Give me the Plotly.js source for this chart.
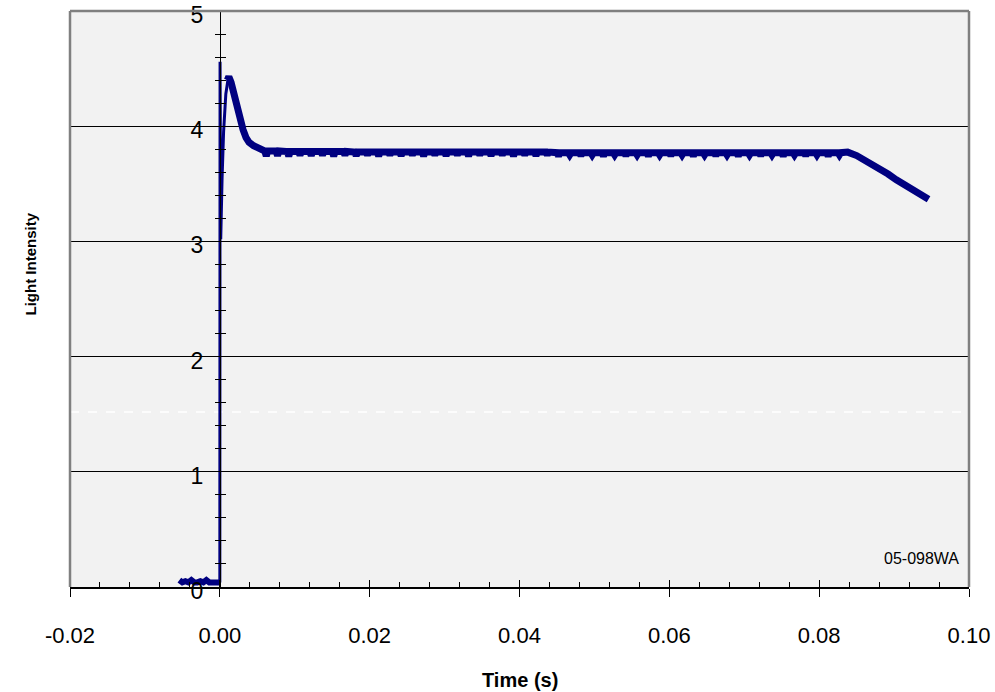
<!DOCTYPE html>
<html>
<head>
<meta charset="utf-8">
<script src="https://cdn.plot.ly/plotly-3.0.1.min.js"></script>
<style>html,body{margin:0;padding:0;background:#fff;}#chart{width:995px;height:692px;}</style>
</head>
<body>
<div id="chart"></div>
<script>
// Pre-trigger baseline
var preTime  = [-0.0054, -0.0050, -0.0046, -0.0042, -0.0038, -0.0034, -0.0030, -0.0026, -0.0022, -0.0018, -0.0014, -0.0010, -0.0006, -0.0002, 0.0000];
var preLight = [0.06, 0.04, 0.05, 0.04, 0.06, 0.04, 0.04, 0.05, 0.04, 0.06, 0.04, 0.04, 0.05, 0.04, 0.04];
// Trigger spike and first rise
var jumpTime  = [0.0000, 0.00003, 0.00012, 0.0003, 0.0005, 0.0008, 0.0011];
var jumpLight = [0.04, 4.56, 3.02, 3.55, 3.95, 4.28, 4.41];
// Overshoot decay, plateau (with downward noise spikes) and final decline
var mainTime = [0.0010, 0.0012, 0.0015, 0.0019, 0.0022, 0.0027, 0.0031, 0.0035, 0.0039, 0.0045, 0.0050, 0.0055,
  0.0060, 0.0062, 0.0064, 0.0075, 0.0077, 0.0079,
  0.0090, 0.0092, 0.0094, 0.0105, 0.0107, 0.0109,
  0.0120, 0.0122, 0.0124, 0.0135, 0.0137, 0.0139,
  0.0150, 0.0152, 0.0154, 0.0165, 0.0167, 0.0169,
  0.0180, 0.0182, 0.0184, 0.0195, 0.0197, 0.0199,
  0.0210, 0.0212, 0.0214, 0.0225, 0.0227, 0.0229,
  0.0240, 0.0242, 0.0244, 0.0255, 0.0257, 0.0259,
  0.0270, 0.0272, 0.0274, 0.0285, 0.0287, 0.0289,
  0.0300, 0.0302, 0.0304, 0.0315, 0.0317, 0.0319,
  0.0330, 0.0332, 0.0334, 0.0345, 0.0347, 0.0349,
  0.0360, 0.0362, 0.0364, 0.0375, 0.0377, 0.0379,
  0.0390, 0.0392, 0.0394, 0.0405, 0.0407, 0.0409,
  0.0420, 0.0422, 0.0424, 0.0435, 0.0437, 0.0439,
  0.0450, 0.0452, 0.0454, 0.0465, 0.0467, 0.0469,
  0.0480, 0.0482, 0.0484, 0.0495, 0.0497, 0.0499,
  0.0510, 0.0512, 0.0514, 0.0525, 0.0527, 0.0529,
  0.0540, 0.0542, 0.0544, 0.0555, 0.0557, 0.0559,
  0.0570, 0.0572, 0.0574, 0.0585, 0.0587, 0.0589,
  0.0600, 0.0602, 0.0604, 0.0615, 0.0617, 0.0619,
  0.0630, 0.0632, 0.0634, 0.0645, 0.0647, 0.0649,
  0.0660, 0.0662, 0.0664, 0.0675, 0.0677, 0.0679,
  0.0690, 0.0692, 0.0694, 0.0705, 0.0707, 0.0709,
  0.0720, 0.0722, 0.0724, 0.0735, 0.0737, 0.0739,
  0.0750, 0.0752, 0.0754, 0.0765, 0.0767, 0.0769,
  0.0780, 0.0782, 0.0784, 0.0795, 0.0797, 0.0799,
  0.0810, 0.0812, 0.0814, 0.0825, 0.0827, 0.0829,
  0.0838, 0.0850, 0.0863, 0.0872, 0.0881, 0.0892, 0.0903, 0.0914, 0.0925, 0.0936, 0.0946];
var mainLight = [4.40, 4.43, 4.38, 4.27, 4.17, 4.05, 3.97, 3.90, 3.86, 3.83, 3.81, 3.80,
  3.785, 3.74, 3.785, 3.785, 3.745, 3.785,
  3.78, 3.74, 3.78, 3.78, 3.75, 3.78,
  3.78, 3.745, 3.78, 3.78, 3.75, 3.78,
  3.78, 3.74, 3.78, 3.78, 3.75, 3.78,
  3.775, 3.745, 3.775, 3.775, 3.75, 3.775,
  3.775, 3.74, 3.775, 3.775, 3.75, 3.775,
  3.775, 3.745, 3.775, 3.775, 3.75, 3.775,
  3.775, 3.74, 3.775, 3.775, 3.75, 3.775,
  3.775, 3.745, 3.775, 3.775, 3.75, 3.775,
  3.775, 3.74, 3.775, 3.775, 3.75, 3.775,
  3.775, 3.745, 3.775, 3.775, 3.75, 3.775,
  3.775, 3.74, 3.775, 3.775, 3.75, 3.775,
  3.775, 3.745, 3.775, 3.775, 3.75, 3.775,
  3.77, 3.74, 3.77, 3.77, 3.75, 3.77,
  3.77, 3.745, 3.77, 3.77, 3.75, 3.77,
  3.77, 3.74, 3.77, 3.77, 3.75, 3.77,
  3.77, 3.745, 3.77, 3.77, 3.75, 3.77,
  3.77, 3.74, 3.77, 3.77, 3.75, 3.77,
  3.77, 3.745, 3.77, 3.77, 3.75, 3.77,
  3.77, 3.74, 3.77, 3.77, 3.75, 3.77,
  3.77, 3.745, 3.77, 3.77, 3.75, 3.77,
  3.77, 3.74, 3.77, 3.77, 3.75, 3.77,
  3.77, 3.745, 3.77, 3.77, 3.75, 3.77,
  3.77, 3.74, 3.77, 3.77, 3.75, 3.77,
  3.77, 3.745, 3.77, 3.77, 3.75, 3.77,
  3.77, 3.74, 3.77, 3.77, 3.75, 3.77,
  3.775, 3.745, 3.70, 3.67, 3.625, 3.585, 3.535, 3.495, 3.45, 3.41, 3.365];

var xTickVals = [-0.02, 0.00, 0.02, 0.04, 0.06, 0.08, 0.10];
var xTickText = ["-0.02", "0.00", "0.02", "0.04", "0.06", "0.08", "0.10"];
var yTickVals = [0, 1, 2, 3, 4, 5];
var yTickText = ["0", "1", "2", "3", "4", "5"];

var navy = '#000080';
var yPos = 0.02 / 0.12;

var traces = [
  {x: preTime, y: preLight, mode: 'lines', line: {color: navy, width: 6}, hoverinfo: 'skip'},
  {x: jumpTime, y: jumpLight, mode: 'lines', line: {color: navy, width: 3}, hoverinfo: 'skip'},
  {x: mainTime, y: mainLight, mode: 'lines', line: {color: navy, width: 7}, hoverinfo: 'skip'},
  {x: [null], y: [null], xaxis: 'x2', yaxis: 'y2', mode: 'lines', hoverinfo: 'skip'}
];

var font = "'Liberation Sans', Arial, sans-serif";

var layout = {
  width: 995, height: 692,
  margin: {l: 70, r: 26, t: 11, b: 105},
  paper_bgcolor: '#ffffff',
  plot_bgcolor: '#f2f2f2',
  showlegend: false,
  font: {family: font, color: '#000'},
  xaxis: {
    range: [-0.02, 0.10], tickvals: xTickVals, ticktext: xTickText,
    showgrid: false, zeroline: false,
    showline: true, linecolor: '#000', linewidth: 1.5,
    ticks: 'outside', ticklen: 8, tickwidth: 1, tickcolor: '#000',
    minor: {dtick: 0.004, tick0: 0, ticks: 'inside', ticklen: 5, tickwidth: 1, tickcolor: '#000', showgrid: false},
    tickfont: {size: 22, family: font, color: '#000'},
    ticklabelstandoff: 20,
    fixedrange: true
  },
  xaxis2: {
    overlaying: 'x', anchor: 'y', range: [-0.02, 0.10], tickvals: xTickVals,
    showticklabels: false, showgrid: false, zeroline: false, showline: false,
    ticks: 'inside', ticklen: 7, tickwidth: 1, tickcolor: '#000'
  },
  yaxis: {
    range: [0, 5], tickvals: yTickVals, ticktext: yTickText,
    anchor: 'free', position: yPos,
    showgrid: true, gridcolor: '#000', gridwidth: 1, zeroline: false,
    showline: true, linecolor: '#000', linewidth: 1.5,
    ticks: 'outside', ticklen: 6, tickwidth: 1, tickcolor: '#000',
    minor: {dtick: 0.2, tick0: 0, ticks: 'outside', ticklen: 5, tickwidth: 1, tickcolor: '#000', showgrid: false},
    tickfont: {size: 23, family: font, color: '#000'},
    ticklabelstandoff: 6,
    ticklabelshift: 4,
    fixedrange: true
  },
  yaxis2: {
    overlaying: 'y', anchor: 'free', position: yPos, range: [0, 5],
    tickvals: yTickVals, showticklabels: false, showgrid: false, zeroline: false, showline: false,
    ticks: 'inside', ticklen: 5, tickwidth: 1, tickcolor: '#000',
    minor: {dtick: 0.2, tick0: 0, ticks: 'inside', ticklen: 5, tickwidth: 1, tickcolor: '#000', showgrid: false}
  },
  shapes: [
    {type: 'line', xref: 'paper', yref: 'y', x0: 0, x1: 1, y0: 1.52, y1: 1.52, layer: 'below',
     line: {color: '#ffffff', width: 1.5, dash: 'dash'}},
    {type: 'line', xref: 'paper', yref: 'paper', x0: 0, x1: 0, y0: 0, y1: 1, line: {color: '#808080', width: 2.5}},
    {type: 'line', xref: 'paper', yref: 'paper', x0: 1, x1: 1, y0: 0, y1: 1, line: {color: '#808080', width: 2.5}},
    {type: 'line', xref: 'paper', yref: 'paper', x0: 0, x1: 1, y0: 1, y1: 1, line: {color: '#808080', width: 2.5}}
  ],
  annotations: [
    {text: '<b>Light Intensity</b>', xref: 'paper', yref: 'paper', x: -0.0434, y: 0.5616,
     xanchor: 'center', yanchor: 'middle', textangle: -90, showarrow: false, font: {size: 15, family: font, color: '#000'}},
    {text: '<b>Time (s)</b>', xref: 'paper', yref: 'paper', x: 0.5006, y: -0.1606,
     xanchor: 'center', yanchor: 'middle', showarrow: false, font: {size: 20, family: font, color: '#000'}},
    {text: '05-098WA', xref: 'paper', yref: 'paper', x: 0.9477, y: 0.0495,
     xanchor: 'center', yanchor: 'middle', showarrow: false, font: {size: 16, family: font, color: '#000'}}
  ]
};

Plotly.newPlot('chart', traces, layout, {displayModeBar: false, staticPlot: true});
</script>
</body>
</html>
